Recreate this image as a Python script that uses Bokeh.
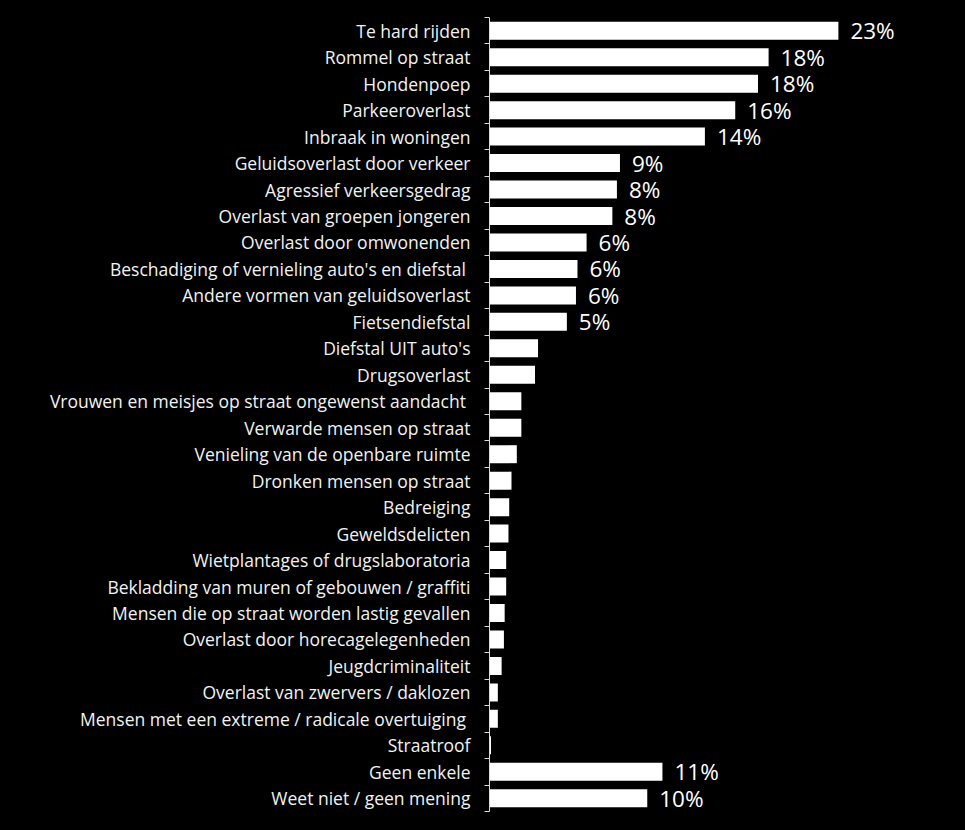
from bokeh.plotting import figure
from bokeh.models import ColumnDataSource, Range1d, FixedTicker
from bokeh.core.properties import value
from bokeh.embed import file_html
from bokeh.resources import INLINE

categories = [
    "Te hard rijden", "Rommel op straat", "Hondenpoep", "Parkeeroverlast",
    "Inbraak in woningen", "Geluidsoverlast door verkeer", "Agressief verkeersgedrag",
    "Overlast van groepen jongeren", "Overlast door omwonenden",
    "Beschadiging of vernieling auto's en diefstal ", "Andere vormen van geluidsoverlast",
    "Fietsendiefstal", "Diefstal UIT auto's", "Drugsoverlast",
    "Vrouwen en meisjes op straat ongewenst aandacht ", "Verwarde mensen op straat",
    "Venieling van de openbare ruimte", "Dronken mensen op straat", "Bedreiging",
    "Geweldsdelicten", "Wietplantages of drugslaboratoria",
    "Bekladding van muren of gebouwen / graffiti",
    "Mensen die op straat worden lastig gevallen", "Overlast door horecagelegenheden",
    "Jeugdcriminaliteit", "Overlast van zwervers / daklozen",
    "Mensen met een extreme / radicale overtuiging ", "Straatroof", "Geen enkele",
    "Weet niet / geen mening",
]
values = [23.0, 18.4, 17.7, 16.2, 14.2, 8.6, 8.4, 8.1, 6.4, 5.8, 5.7, 5.1, 3.2, 3.0,
          2.1, 2.1, 1.8, 1.45, 1.3, 1.25, 1.1, 1.1, 1.0, 0.95, 0.8, 0.55, 0.55, 0.1,
          11.4, 10.4]
value_labels = ["23%", "18%", "18%", "16%", "14%", "9%", "8%", "8%", "6%", "6%", "6%", "5%",
                "", "", "", "", "", "", "", "", "", "", "", "", "", "", "", "",
                "11%", "10%"]

n = len(categories)
ypos = [n - 1 - i for i in range(n)]

src = ColumnDataSource(dict(y=ypos, v=values, lab=value_labels, cat=categories))

p = figure(width=965, height=830, output_backend="svg", toolbar_location=None,
           x_range=Range1d(0, 31.05), y_range=Range1d(-0.5, n - 0.5),
           x_axis_location=None, min_border_left=489, min_border_right=5,
           min_border_top=17, min_border_bottom=19)
p.background_fill_color = "black"
p.border_fill_color = "black"
p.outline_line_color = None
p.styles = {"background-color": "black"}
p.xgrid.visible = False
p.ygrid.visible = False

p.hbar(y="y", right="v", left=0, height=0.68, source=src,
       fill_color="white", line_color=None)
p.text(x="v", y="y", text="lab", source=src, x_offset=12,
       text_font=value("Open Sans"), text_font_size="22.5px", text_color="white",
       text_baseline="middle", text_align="left")

ax = p.yaxis[0]
ax.ticker = FixedTicker(ticks=ypos, minor_ticks=[k - 0.5 for k in range(n + 1)])
ax.major_label_overrides = {yv: c for yv, c in zip(ypos, categories)}
ax.major_tick_out = 0
ax.major_tick_in = 0
ax.minor_tick_out = 5
ax.minor_tick_in = 0
ax.minor_tick_line_color = "#D9D9D9"
ax.axis_line_color = "#D9D9D9"
ax.major_label_standoff = 14
ax.major_label_text_color = "#F2F2F2"
ax.major_label_text_font = "Open Sans"
ax.major_label_text_font_size = "17.5px"

open("out.html", "w").write(file_html(p, INLINE))
